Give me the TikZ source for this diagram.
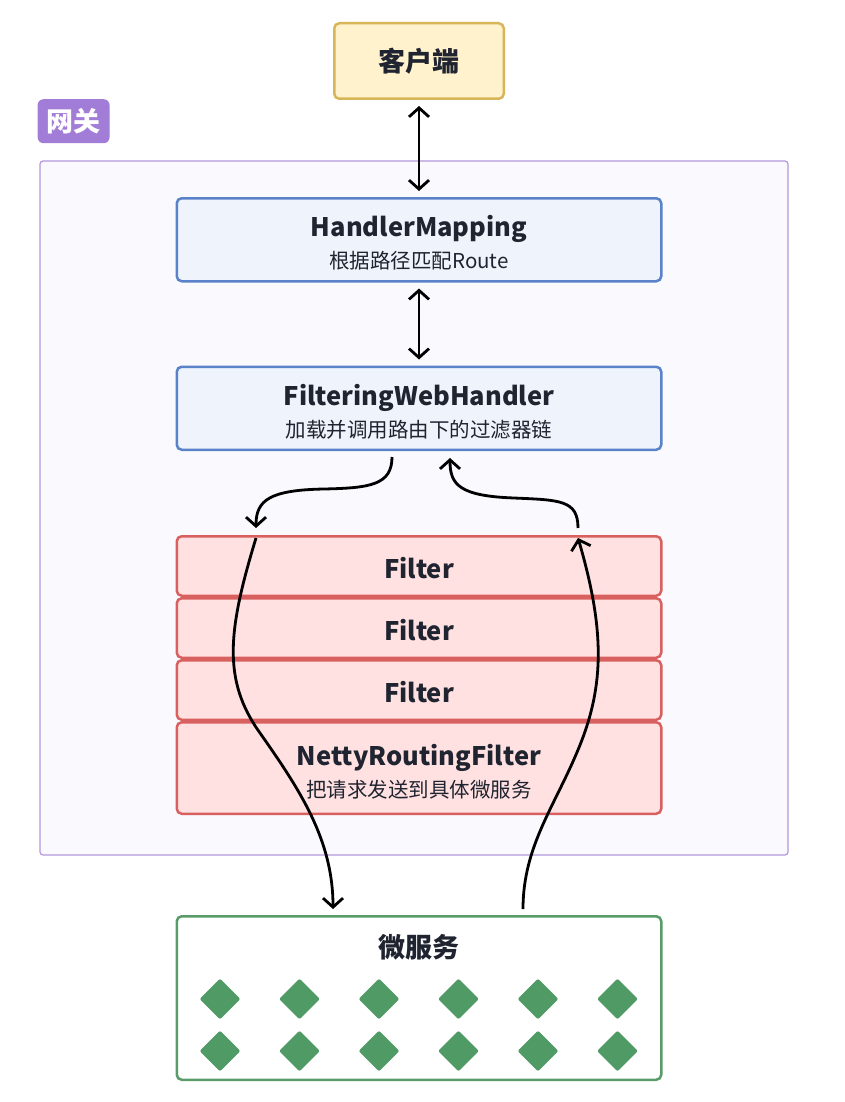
\documentclass[tikz,border=0pt]{standalone}
\usepackage{fontspec}
\setmainfont{Noto Sans CJK SC}
\usepackage{xcolor}
\usetikzlibrary{arrows.meta, positioning, shapes.geometric}

\definecolor{inkc}{HTML}{1F2430}
\definecolor{clientfill}{HTML}{FFF2CC}
\definecolor{clientline}{HTML}{D6B656}
\definecolor{gwfill}{HTML}{F9F9FE}
\definecolor{gwline}{HTML}{B397DC}
\definecolor{tagfill}{HTML}{A27DD8}
\definecolor{bluefill}{HTML}{EFF4FC}
\definecolor{blueline}{HTML}{5A82C9}
\definecolor{redfill}{HTML}{FFE1E1}
\definecolor{redline}{HTML}{D8605F}
\definecolor{greenline}{HTML}{5A9C69}
\definecolor{podfill}{HTML}{4F9A65}

\newcommand\ttlfnt{\fontsize{25.5}{30}\selectfont\bfseries}
\newcommand\cjkttl{\fontsize{27}{32}\selectfont\bfseries}
\newcommand\subfnt{\fontsize{20.5}{24}\selectfont}
\newcommand\twoline[2]{{\ttlfnt\rule{0pt}{28pt}#1}\\[8pt]#2}

\begin{document}
\begin{tikzpicture}[
  x=1pt, y=-1pt,
  >={Straight Barb[length=9pt,width=20pt]},
  box/.style={draw, line width=2.5pt, rounded corners=5pt, align=center, inner sep=0pt,
    text=inkc, minimum width=484.5pt},
  clientbox/.style={box, draw=clientline, fill=clientfill, minimum width=169.5pt,
    minimum height=75.5pt, font=\cjkttl},
  bluebox/.style={box, draw=blueline, fill=bluefill, minimum height=83pt, font=\subfnt},
  redbox/.style={box, draw=redline, fill=redfill},
  filterbox/.style={redbox, minimum height=59.5pt, font=\ttlfnt, text height=24pt, text depth=0pt},
  nettybox/.style={redbox, minimum height=91.5pt, font=\subfnt},
  msbox/.style={box, draw=greenline, fill=white, minimum height=163.5pt},
  gateway/.style={draw=gwline, fill=gwfill, line width=1.2pt, rounded corners=3pt,
    minimum width=748pt, minimum height=694pt},
  tagbox/.style={fill=tagfill, text=white, rounded corners=6pt, font=\cjkttl,
    minimum width=72pt, minimum height=44pt, inner sep=0pt},
  pod/.style={diamond, fill=podfill, minimum size=41pt, inner sep=0pt, rounded corners=2pt},
  flow/.style={line width=2.8pt, ->},
  dual/.style={line width=2.8pt, <->}
]
\path[use as bounding box, fill=white] (0,0) rectangle (845,1102);

% Gateway group
\node[gateway] (gw) at (414,508) {};
\node[tagbox, above right=17pt and -2pt of gw.north west] (tag) {网关};

% Client and handlers
\node[clientbox] (client) at (419,61) {客户端};
\node[bluebox, below=97pt of client] (mapping) {\twoline{HandlerMapping}{根据路径匹配Route}};
\node[bluebox, below=83pt of mapping] (handler)
  {\twoline{FilteringWebHandler}{加载并调用路由下的过滤器链}};

% Filter chain
\node[filterbox, below=84pt of handler] (f1) {Filter};
\node[filterbox, below=0pt of f1] (f2) {Filter};
\node[filterbox, below=0pt of f2] (f3) {Filter};
\node[nettybox, below=0pt of f3] (netty)
  {\twoline{NettyRoutingFilter}{把请求发送到具体微服务}};

% Microservices
\node[msbox, below=100pt of netty] (ms) {};
\node[font=\cjkttl, text=inkc, below=16pt of ms.north] (mstitle) {微服务};
\foreach \i in {0,...,5}
  \foreach \j in {0,1}
    \node[pod] (p\i\j) at (220+79.5*\i, 999+52*\j) {};

% Connectors
\draw[dual] ([yshift=-6pt]client.south) -- ([yshift=6pt]mapping.north);
\draw[dual] ([yshift=-6pt]mapping.south) -- ([yshift=6pt]handler.north);
\draw[flow] ([xshift=-27pt,yshift=-6pt]handler.south) .. controls (392,485) and (370,488) .. (324,489)
  .. controls (270,490) and (256,500) .. ([xshift=-163pt,yshift=7pt]f1.north);
\draw[flow] ([xshift=159pt,yshift=7pt]f1.north) .. controls (578,500) and (560,500) .. (514,498)
  .. controls (460,496) and (450,485) .. ([xshift=31pt,yshift=-7pt]handler.south);
\draw[flow] ([xshift=-163pt,yshift=-3pt]f1.north) .. controls (228,630) and (222,680) .. (260,733)
  .. controls (300,790) and (333,840) .. ([xshift=-86pt,yshift=6pt]ms.north);
\draw[flow] ([xshift=104pt,yshift=6pt]ms.north) .. controls (523,845) and (556,805) .. (580,745)
  .. controls (604,685) and (605,630) .. ([xshift=159pt,yshift=-3pt]f1.north);

\end{tikzpicture}
\end{document}
